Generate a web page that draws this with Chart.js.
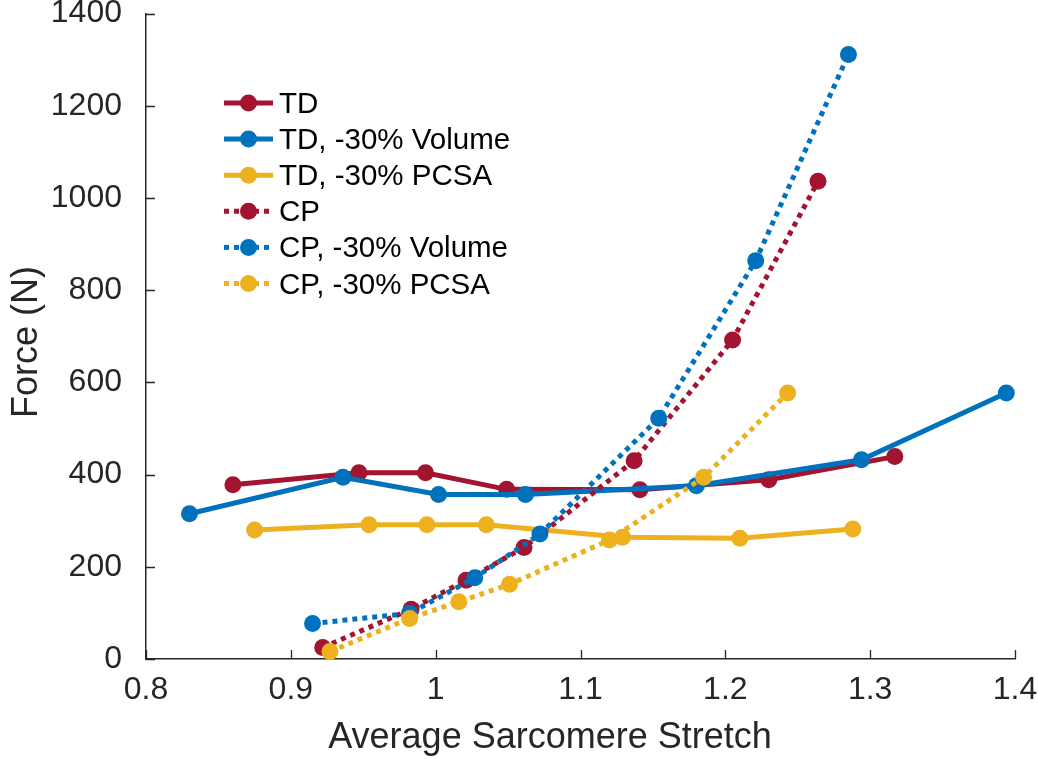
<!DOCTYPE html>
<html>
<head>
<meta charset="utf-8">
<title>Force vs Average Sarcomere Stretch</title>
<script src="https://cdn.jsdelivr.net/npm/chart.js@4.4.0/dist/chart.umd.min.js"></script>
<style>
    html, body { margin: 0; padding: 0; background: #fff; }
    #wrap { width: 1038px; height: 759px; }
</style>
</head>
<body>
<div id="wrap"><canvas id="forceChart" width="1038" height="759"></canvas></div>
<script>
// series values
const seriesNames = ['TD', 'TD, -30% Volume', 'TD, -30% PCSA', 'CP', 'CP, -30% Volume', 'CP, -30% PCSA'];

const tdX = [0.860, 0.947, 0.993, 1.049, 1.141, 1.230, 1.317];
const tdY = [378, 404, 404, 368, 367, 389, 439];

const tdVolX = [0.830, 0.936, 1.002, 1.062, 1.180, 1.294, 1.394];
const tdVolY = [315, 394, 357, 357, 376, 432, 577];

const tdPcsaX = [0.875, 0.954, 0.994, 1.035, 1.129, 1.210, 1.288];
const tdPcsaY = [280, 291, 291, 291, 264, 262, 282];

const cpX = [0.922, 0.983, 1.021, 1.061, 1.137, 1.205, 1.264];
const cpY = [25, 108, 171, 242, 430, 692, 1036];

const cpVolX = [0.915, 0.982, 1.027, 1.072, 1.154, 1.221, 1.285];
const cpVolY = [77, 99, 176, 271, 522, 864, 1311];

const cpPcsaX = [0.927, 0.982, 1.016, 1.051, 1.120, 1.185, 1.243];
const cpPcsaY = [16, 88, 124, 162, 258, 394, 577];

const xTicks = [0.8, 0.9, 1, 1.1, 1.2, 1.3, 1.4];
const yTicks = [0, 200, 400, 600, 800, 1000, 1200, 1400];

const xTitle = 'Average Sarcomere Stretch';
const yTitle = 'Force (N)';

(function () {
    const red = '#A2142F';
    const blue = '#0072BD';
    const yellow = '#EDB120';
    const axisColor = '#262626';
    const font = '"Liberation Sans", Arial, Helvetica, sans-serif';

    function pts(xs, ys) {
        return xs.map((x, i) => ({ x: x, y: ys[i] }));
    }

    function series(i, xs, ys, color, dotted) {
        return {
            label: seriesNames[i],
            data: pts(xs, ys),
            showLine: true,
            borderColor: color,
            backgroundColor: color,
            borderWidth: 5,
            borderDash: dotted ? [5, 5] : [],
            pointRadius: 8.5,
            pointHoverRadius: 8.5,
            pointBorderWidth: 0,
            pointBackgroundColor: color,
            clip: false,
            order: 10 - i   // later series drawn on top, like the original
        };
    }

    // inward tick marks, axis titles and the legend box
    const decor = {
        id: 'decor',
        afterDraw(chart) {
            const c = chart.ctx;
            const xs = chart.scales.x, ys = chart.scales.y;
            const area = chart.chartArea;
            c.save();
            c.strokeStyle = axisColor;
            c.lineWidth = 1.3;
            c.beginPath();
            xTicks.forEach(v => {
                const px = Math.round(xs.getPixelForValue(v)) + 0.5;
                c.moveTo(px, area.bottom);
                c.lineTo(px, area.bottom - 9);
            });
            yTicks.forEach(v => {
                const py = Math.round(ys.getPixelForValue(v)) + 0.5;
                c.moveTo(area.left, py);
                c.lineTo(area.left + 9, py);
            });
            c.stroke();

            // axis titles
            c.fillStyle = axisColor;
            c.font = '36px ' + font;
            c.textAlign = 'center';
            c.textBaseline = 'alphabetic';
            c.fillText(xTitle, 550, 748);
            c.save();
            c.translate(37, 342);
            c.rotate(-Math.PI / 2);
            c.fillText(yTitle, 0, 0);
            c.restore();

            // legend
            const top = 103, step = 36.1;
            chart.data.datasets.forEach((ds, i) => {
                const y = top + i * step;
                c.strokeStyle = ds.borderColor;
                c.lineWidth = 5;
                c.setLineDash(ds.borderDash);
                c.beginPath();
                c.moveTo(224, y);
                c.lineTo(273, y);
                c.stroke();
                c.setLineDash([]);
                c.fillStyle = ds.borderColor;
                c.beginPath();
                c.arc(248.5, y, 8.5, 0, Math.PI * 2);
                c.fill();
                c.fillStyle = '#000';
                c.font = '29.5px ' + font;
                c.textAlign = 'left';
                c.fillText(ds.label, 279, y + 10);
            });
            c.restore();
        }
    };

    new Chart(document.getElementById('forceChart'), {
        type: 'scatter',
        data: {
            datasets: [
                series(0, tdX, tdY, red, false),
                series(1, tdVolX, tdVolY, blue, false),
                series(2, tdPcsaX, tdPcsaY, yellow, false),
                series(3, cpX, cpY, red, true),
                series(4, cpVolX, cpVolY, blue, true),
                series(5, cpPcsaX, cpPcsaY, yellow, true)
            ]
        },
        options: {
            responsive: false,
            animation: false,
            events: [],
            layout: { padding: { top: 13.5, right: 23, left: 0, bottom: 0 } },
            plugins: {
                legend: { display: false },
                tooltip: { enabled: false }
            },
            scales: {
                x: {
                    type: 'linear',
                    min: 0.8,
                    max: 1.4,
                    afterFit: s => {
                        s.height = 100;
                        s.paddingLeft = 0;
                        s.paddingRight = 0;
                    },
                    afterBuildTicks: s => { s.ticks = xTicks.map(v => ({ value: v })); },
                    grid: { display: false, drawTicks: false },
                    border: { display: true, color: axisColor, width: 1.5 },
                    ticks: {
                        color: axisColor,
                        padding: 12,
                        maxRotation: 0,
                        autoSkip: false,
                        font: { family: font, size: 32 },
                        callback: v => String(v)
                    }
                },
                y: {
                    type: 'linear',
                    min: 0,
                    max: 1400,
                    afterFit: s => {
                        s.width = 146;
                        s.paddingTop = 0;
                        s.paddingBottom = 0;
                    },
                    afterBuildTicks: s => { s.ticks = yTicks.map(v => ({ value: v })); },
                    grid: { display: false, drawTicks: false },
                    border: { display: true, color: axisColor, width: 1.5 },
                    ticks: {
                        color: axisColor,
                        padding: 24,
                        autoSkip: false,
                        font: { family: font, size: 32 },
                        callback: v => String(v)
                    }
                }
            }
        },
        plugins: [decor]
    });
})();
</script>
</body>
</html>
